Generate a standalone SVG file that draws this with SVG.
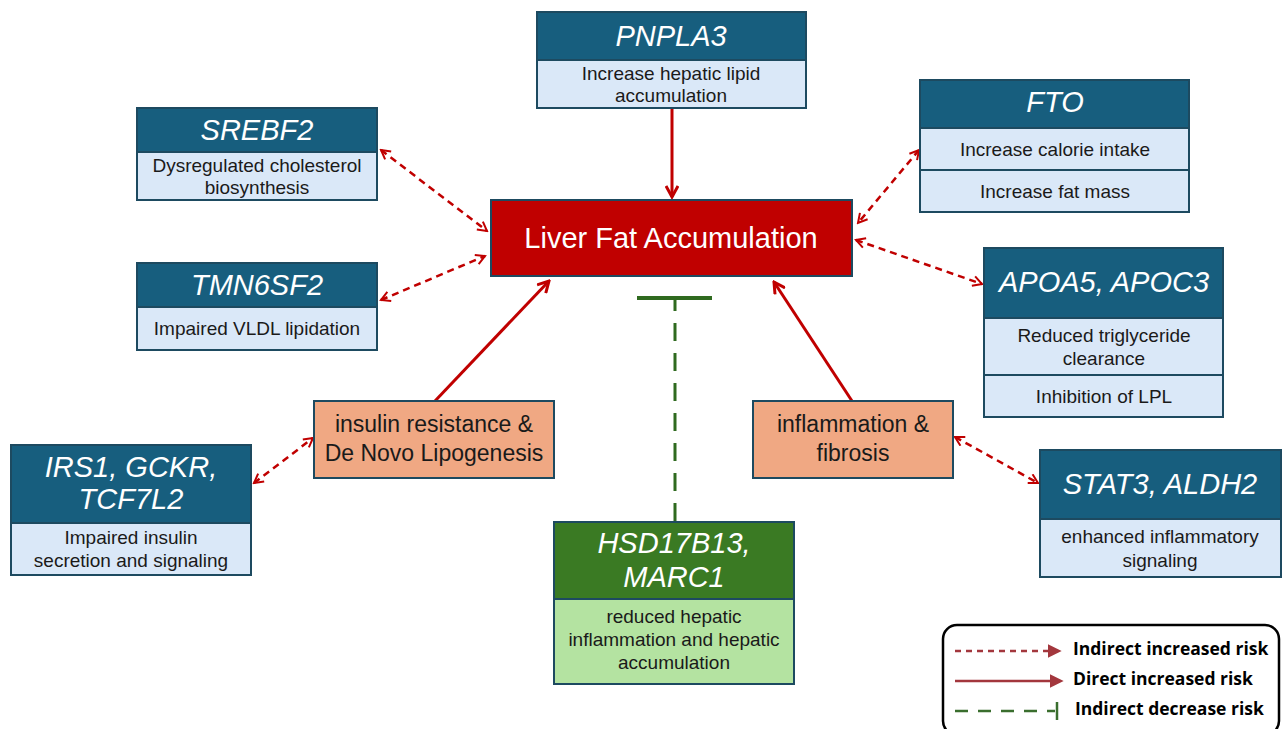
<svg xmlns="http://www.w3.org/2000/svg" width="1282" height="729" viewBox="0 0 1282 729">
<defs>
<style>
.hd{fill:#175e7e;stroke:#1d4a60;stroke-width:2}
.bd{fill:#dae8f8;stroke:#1d4a60;stroke-width:2}
.org{fill:#f0a883;stroke:#1d4a60;stroke-width:2}
.ht{font-family:"Liberation Sans",Arial,sans-serif;font-style:italic;font-size:29px;fill:#ffffff;text-anchor:middle}
.bt{font-family:"Liberation Sans",Arial,sans-serif;font-size:19px;fill:#1a1a1a;text-anchor:middle}
.ot{font-family:"Liberation Sans",Arial,sans-serif;font-size:23px;fill:#1a1a1a;text-anchor:middle}
.dash{stroke:#c00000;stroke-width:2.5;fill:none;stroke-dasharray:7 5}
.solid{stroke:#c00000;stroke-width:3;fill:none}
.lg{font-family:"Open Sans","Liberation Sans",sans-serif;font-weight:bold;font-size:17.5px;fill:#000}
</style>
<marker id="ch" viewBox="0 0 12 12" refX="10" refY="6" markerWidth="12" markerHeight="12" markerUnits="userSpaceOnUse" orient="auto-start-reverse">
<path d="M1,1 L10,6 L1,11" fill="none" stroke="#c00000" stroke-width="2"/>
</marker>
<marker id="ah" viewBox="0 0 14 14" refX="12" refY="7" markerWidth="14" markerHeight="14" markerUnits="userSpaceOnUse" orient="auto">
<path d="M1,1 L12,7 L1,13" fill="none" stroke="#c00000" stroke-width="3"/>
</marker>
<marker id="lt" viewBox="0 0 12 12" refX="2" refY="6" markerWidth="14" markerHeight="14" markerUnits="userSpaceOnUse" orient="auto">
<path d="M0,0 L12,6 L0,12 Z" fill="#a3373d"/>
</marker>
</defs>
<rect width="1282" height="729" fill="#ffffff"/>

<g id="connectors">
<line class="solid" x1="672" y1="109" x2="672" y2="197" marker-end="url(#ah)"/>
<line class="dash" x1="381" y1="150" x2="487" y2="231" marker-start="url(#ch)" marker-end="url(#ch)"/>
<line class="dash" x1="381" y1="300" x2="485" y2="256" marker-start="url(#ch)" marker-end="url(#ch)"/>
<line class="dash" x1="919" y1="150" x2="858" y2="223" marker-start="url(#ch)" marker-end="url(#ch)"/>
<line class="dash" x1="856" y1="240" x2="982" y2="284" marker-start="url(#ch)" marker-end="url(#ch)"/>
<line class="solid" x1="435" y1="401" x2="549" y2="281" marker-end="url(#ah)"/>
<line class="solid" x1="852" y1="401" x2="774" y2="282" marker-end="url(#ah)"/>
<line class="dash" x1="254" y1="483" x2="313" y2="438" marker-start="url(#ch)" marker-end="url(#ch)"/>
<line class="dash" x1="955" y1="437" x2="1038" y2="483" marker-start="url(#ch)" marker-end="url(#ch)"/>
<line x1="675" y1="521" x2="675" y2="299" stroke="#2f6a1f" stroke-width="3" stroke-dasharray="18 12"/>
<line x1="637" y1="298" x2="712" y2="298" stroke="#2f6a1f" stroke-width="4"/>
</g>

<g id="liver">
<rect x="491" y="200" width="361" height="76" fill="#c00000" stroke="#1d4a60" stroke-width="2"/>
<text x="671" y="248" font-family="Liberation Sans,Arial,sans-serif" font-size="29" fill="#ffffff" text-anchor="middle">Liver Fat Accumulation</text>
</g>

<g id="pnpla3">
<rect class="hd" x="537" y="12" width="269" height="48"/>
<rect class="bd" x="537" y="60" width="269" height="48"/>
<text class="ht" x="671" y="46">PNPLA3</text>
<text class="bt" x="671" y="80">Increase hepatic lipid</text>
<text class="bt" x="671" y="102">accumulation</text>
</g>

<g id="srebf2">
<rect class="hd" x="137" y="108" width="240" height="44"/>
<rect class="bd" x="137" y="152" width="240" height="48"/>
<text class="ht" x="257" y="140">SREBF2</text>
<text class="bt" x="257" y="172">Dysregulated cholesterol</text>
<text class="bt" x="257" y="194">biosynthesis</text>
</g>

<g id="tmn6sf2">
<rect class="hd" x="137" y="263" width="240" height="44"/>
<rect class="bd" x="137" y="307" width="240" height="43"/>
<text class="ht" x="257" y="295">TMN6SF2</text>
<text class="bt" x="257" y="335">Impaired VLDL lipidation</text>
</g>

<g id="fto">
<rect class="hd" x="920" y="80" width="269" height="48"/>
<rect class="bd" x="920" y="128" width="269" height="42"/>
<rect class="bd" x="920" y="170" width="269" height="42"/>
<text class="ht" x="1055" y="112" font-size="25">FTO</text>
<text class="bt" x="1055" y="156">Increase calorie intake</text>
<text class="bt" x="1055" y="198">Increase fat mass</text>
</g>

<g id="apoa5">
<rect class="hd" x="984" y="248" width="239" height="70"/>
<rect class="bd" x="984" y="318" width="239" height="57"/>
<rect class="bd" x="984" y="375" width="239" height="42"/>
<text class="ht" x="1104" y="292">APOA5, APOC3</text>
<text class="bt" x="1104" y="342">Reduced triglyceride</text>
<text class="bt" x="1104" y="365">clearance</text>
<text class="bt" x="1104" y="403">Inhibition of LPL</text>
</g>

<g id="insulin">
<rect class="org" x="314" y="401" width="240" height="77"/>
<text class="ot" x="434" y="432">insulin resistance &amp;</text>
<text class="ot" x="434" y="461">De Novo Lipogenesis</text>
</g>

<g id="inflammation">
<rect class="org" x="753" y="401" width="200" height="77"/>
<text class="ot" x="853" y="432">inflammation &amp;</text>
<text class="ot" x="853" y="461">fibrosis</text>
</g>

<g id="irs1">
<rect class="hd" x="11" y="445" width="240" height="78"/>
<rect class="bd" x="11" y="523" width="240" height="52"/>
<text class="ht" x="131" y="477">IRS1, GCKR,</text>
<text class="ht" x="131" y="509">TCF7L2</text>
<text class="bt" x="131" y="544">Impaired insulin</text>
<text class="bt" x="131" y="567">secretion and signaling</text>
</g>

<g id="stat3">
<rect class="hd" x="1040" y="450" width="241" height="69"/>
<rect class="bd" x="1040" y="519" width="241" height="58"/>
<text class="ht" x="1160" y="494">STAT3, ALDH2</text>
<text class="bt" x="1160" y="543">enhanced inflammatory</text>
<text class="bt" x="1160" y="567">signaling</text>
</g>

<g id="hsd17b13">
<rect x="554" y="522" width="240" height="77" fill="#3a7a23" stroke="#1d4a60" stroke-width="2"/>
<rect x="554" y="599" width="240" height="85" fill="#b4e3a1" stroke="#1d4a60" stroke-width="2"/>
<text class="ht" x="674" y="553">HSD17B13,</text>
<text class="ht" x="674" y="587">MARC1</text>
<text class="bt" x="674" y="623">reduced hepatic</text>
<text class="bt" x="674" y="646">inflammation and hepatic</text>
<text class="bt" x="674" y="669">accumulation</text>
</g>

<g id="legend">
<rect x="943" y="625" width="336" height="110" rx="14" fill="#ffffff" stroke="#000" stroke-width="2.5"/>
<line x1="955" y1="651" x2="1050" y2="651" stroke="#a3373d" stroke-width="2.5" stroke-dasharray="6 5" marker-end="url(#lt)"/>
<line x1="955" y1="681" x2="1052" y2="681" stroke="#a3373d" stroke-width="2.5" marker-end="url(#lt)"/>
<line x1="955" y1="711" x2="1055" y2="711" stroke="#3a6e2e" stroke-width="2.5" stroke-dasharray="13 10"/>
<line x1="1057" y1="702" x2="1057" y2="720" stroke="#3a6e2e" stroke-width="2.5"/>
<text class="lg" x="1073" y="655">Indirect increased risk</text>
<text class="lg" x="1073" y="685">Direct increased risk</text>
<text class="lg" x="1075" y="715">Indirect decrease risk</text>
</g>
</svg>
